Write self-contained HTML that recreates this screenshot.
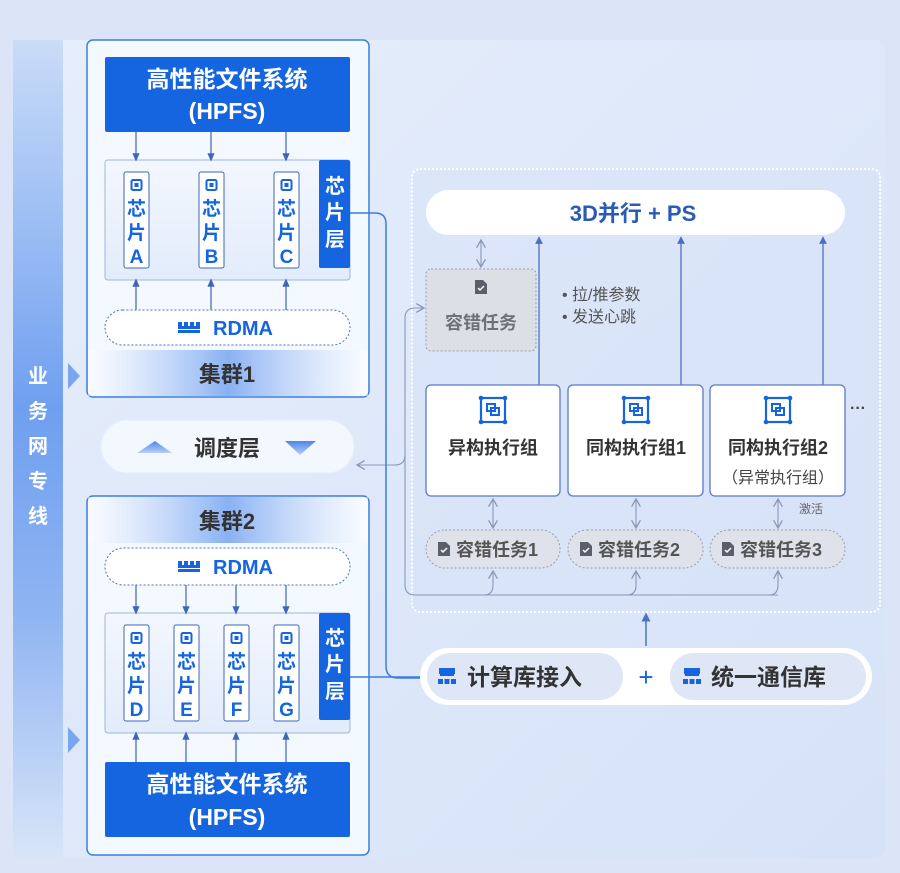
<!DOCTYPE html>
<html><head><meta charset="utf-8"><style>
html,body{margin:0;padding:0;background:#dbe5f7;}
svg{display:block;font-family:"Liberation Sans","Noto Sans CJK SC",sans-serif;}
</style></head><body>
<svg width="900" height="873" viewBox="0 0 900 873" xmlns="http://www.w3.org/2000/svg">
<defs>
<linearGradient id="bg" x1="0" y1="0" x2="1" y2="1"><stop offset="0" stop-color="#e6eefb"/><stop offset="1" stop-color="#d6e2f8"/></linearGradient>
<linearGradient id="strip" x1="0" y1="0" x2="0" y2="1"><stop offset="0" stop-color="#c9dcf8"/><stop offset="0.45" stop-color="#6f9ff0"/><stop offset="0.7" stop-color="#8fb4f2"/><stop offset="1" stop-color="#d8e5f8"/></linearGradient>
<linearGradient id="band" x1="0" y1="0" x2="1" y2="0"><stop offset="0" stop-color="#ffffff" stop-opacity="0.6"/><stop offset="0.5" stop-color="#6f9ff0"/><stop offset="1" stop-color="#ffffff" stop-opacity="0.6"/></linearGradient>
<linearGradient id="band2" x1="0" y1="0" x2="0" y2="1"><stop offset="0" stop-color="#ffffff" stop-opacity="0"/><stop offset="1" stop-color="#ffffff" stop-opacity="0.5"/></linearGradient>
<linearGradient id="chipbg" x1="0" y1="0" x2="0" y2="1"><stop offset="0" stop-color="#f3f7fe"/><stop offset="1" stop-color="#e2ecfb"/></linearGradient>
<linearGradient id="tri" x1="0" y1="0" x2="0" y2="1"><stop offset="0" stop-color="#4d86ee"/><stop offset="1" stop-color="#b7cff6"/></linearGradient>
<marker id="ab" markerWidth="8" markerHeight="8" refX="4" refY="4" orient="auto"><path d="M0,1 L7,4 L0,7 z" fill="#3f66b8"/></marker>
<marker id="ag" markerWidth="10" markerHeight="10" refX="8" refY="5" orient="auto"><path d="M1,1 L8,5 L1,9" fill="none" stroke="#8b98b8" stroke-width="1.2"/></marker>
<marker id="ag2" markerWidth="10" markerHeight="10" refX="2" refY="5" orient="auto"><path d="M9,1 L2,5 L9,9" fill="none" stroke="#8b98b8" stroke-width="1.2"/></marker>
<marker id="ad" markerWidth="6" markerHeight="6" refX="3" refY="3" orient="auto"><path d="M0,0 L6,3 L0,6 z" fill="#4a72c4"/></marker>
<g id="chipic"><rect x="-5" y="-5" width="10" height="10" rx="1.5" fill="none" stroke="#1565e0" stroke-width="2"/><rect x="-2" y="-2" width="4" height="4" fill="#1565e0"/></g>
<g id="execic"><rect x="-12" y="-12" width="24" height="24" fill="none" stroke="#1565e0" stroke-width="2.2"/><rect x="-6" y="-6" width="8" height="7" fill="none" stroke="#1565e0" stroke-width="2"/><rect x="-2" y="-2" width="8" height="7" fill="none" stroke="#1565e0" stroke-width="2"/><circle cx="-12" cy="-12" r="2.3" fill="#1565e0"/><circle cx="12" cy="-12" r="2.3" fill="#1565e0"/><circle cx="-12" cy="12" r="2.3" fill="#1565e0"/><circle cx="12" cy="12" r="2.3" fill="#1565e0"/></g>
<g id="docic"><path d="M-6,-7 h8 l4,4 v10 h-12 z" fill="#5a5f6b"/><path d="M-3,1 l2,2 l4,-4" fill="none" stroke="#fff" stroke-width="1.5"/></g>
<g id="netic"><rect x="-8" y="-8" width="16" height="6" fill="#1565e0"/><rect x="-9" y="3" width="5" height="5" fill="#1565e0"/><rect x="-2.5" y="3" width="5" height="5" fill="#1565e0"/><rect x="4" y="3" width="5" height="5" fill="#1565e0"/><rect x="-7" y="-2" width="14" height="2" fill="#1565e0"/></g>
<g id="ramic"><rect x="-11" y="-5" width="22" height="7" fill="#1565e0"/><rect x="-11" y="3" width="22" height="3" fill="#1565e0"/><rect x="-7" y="-5" width="2" height="4" fill="#fff"/><rect x="-1" y="-5" width="2" height="4" fill="#fff"/><rect x="5" y="-5" width="2" height="4" fill="#fff"/></g>
</defs>
<rect width="900" height="873" fill="#dbe5f7"/>
<rect x="13" y="40" width="872" height="818" rx="10" fill="url(#bg)"/>
<rect x="13" y="40" width="50" height="818" fill="url(#strip)"/>
<g fill="#fff" font-size="20" font-weight="bold" text-anchor="middle">
<text x="38" y="383">业</text><text x="38" y="418">务</text><text x="38" y="453">网</text><text x="38" y="488">专</text><text x="38" y="523">线</text></g>
<path d="M68,363 L80,376 L68,389 z" fill="#7aa6f0"/>
<path d="M68,727 L80,740 L68,753 z" fill="#7aa6f0"/>

<!-- cluster 1 -->
<rect x="87" y="40" width="282" height="357" rx="6" fill="#f4f8ff" stroke="#3a7ee0" stroke-width="1.5"/>
<rect x="105" y="57" width="245" height="75" rx="2" fill="#1565e0"/>
<text x="227" y="87" fill="#fff" font-size="23" font-weight="bold" text-anchor="middle">高性能文件系统</text>
<text x="227" y="119" fill="#fff" font-size="23" font-weight="bold" text-anchor="middle">(HPFS)</text>
<rect x="105" y="160" width="245" height="120" rx="3" fill="url(#chipbg)" stroke="#9db6e0"/>
<rect x="319" y="160" width="31" height="108" rx="2" fill="#1565e0"/>
<g fill="#fff" font-size="20" font-weight="bold" text-anchor="middle"><text x="335" y="193">芯</text><text x="335" y="219">片</text><text x="335" y="246">层</text></g>
<g stroke="#3f66b8" stroke-width="1.2">
<line x1="136" y1="132" x2="136" y2="158" marker-end="url(#ab)"/><line x1="211" y1="132" x2="211" y2="158" marker-end="url(#ab)"/><line x1="286" y1="132" x2="286" y2="158" marker-end="url(#ab)"/>
<line x1="136" y1="310" x2="136" y2="282" marker-end="url(#ab)"/><line x1="211" y1="310" x2="211" y2="282" marker-end="url(#ab)"/><line x1="286" y1="310" x2="286" y2="282" marker-end="url(#ab)"/></g>
<g font-size="19" font-weight="bold" fill="#1565e0" text-anchor="middle">
<rect x="124" y="172" width="25" height="96" rx="2" fill="#fff" stroke="#3f66b8"/><use href="#chipic" x="136.5" y="185"/><text x="136.5" y="215">芯</text><text x="136.5" y="239">片</text><text x="136.5" y="263">A</text>
<rect x="199" y="172" width="25" height="96" rx="2" fill="#fff" stroke="#3f66b8"/><use href="#chipic" x="211.5" y="185"/><text x="211.5" y="215">芯</text><text x="211.5" y="239">片</text><text x="211.5" y="263">B</text>
<rect x="274" y="172" width="25" height="96" rx="2" fill="#fff" stroke="#3f66b8"/><use href="#chipic" x="286.5" y="185"/><text x="286.5" y="215">芯</text><text x="286.5" y="239">片</text><text x="286.5" y="263">C</text>
</g>
<rect x="105" y="310" width="245" height="35" rx="17.5" fill="#fff" stroke="#4a72c4" stroke-dasharray="2,2"/>
<use href="#ramic" x="189" y="327"/>
<text x="243" y="335" fill="#1565e0" font-size="20" font-weight="bold" text-anchor="middle">RDMA</text>
<rect x="88" y="350" width="280" height="46" fill="url(#band)" opacity="0.8"/>
<text x="227" y="382" fill="#333" font-size="22" font-weight="bold" text-anchor="middle">集群1</text>

<!-- scheduler -->
<rect x="101" y="420" width="253" height="53" rx="26.5" fill="#f3f7fe" stroke="#e6eefb"/>
<path d="M137,453 L155,441 L172,453 z" fill="url(#tri)"/>
<path d="M285,441 L316,441 L300,455 z" fill="url(#tri)"/>
<text x="227" y="456" fill="#333" font-size="22" font-weight="bold" text-anchor="middle">调度层</text>

<!-- cluster 2 -->
<rect x="87" y="496" width="282" height="359" rx="6" fill="#f4f8ff" stroke="#3a7ee0" stroke-width="1.5"/>
<rect x="88" y="497" width="280" height="46" fill="url(#band)" opacity="0.8"/>
<text x="227" y="529" fill="#333" font-size="22" font-weight="bold" text-anchor="middle">集群2</text>
<rect x="105" y="548" width="245" height="37" rx="18.5" fill="#fff" stroke="#4a72c4" stroke-dasharray="2,2"/>
<use href="#ramic" x="189" y="566"/>
<text x="243" y="574" fill="#1565e0" font-size="20" font-weight="bold" text-anchor="middle">RDMA</text>
<rect x="105" y="613" width="245" height="120" rx="3" fill="url(#chipbg)" stroke="#9db6e0"/>
<rect x="319" y="613" width="31" height="107" rx="2" fill="#1565e0"/>
<g fill="#fff" font-size="20" font-weight="bold" text-anchor="middle"><text x="335" y="645">芯</text><text x="335" y="671">片</text><text x="335" y="698">层</text></g>
<g stroke="#3f66b8" stroke-width="1.2">
<line x1="136" y1="585" x2="136" y2="611" marker-end="url(#ab)"/><line x1="186" y1="585" x2="186" y2="611" marker-end="url(#ab)"/><line x1="236" y1="585" x2="236" y2="611" marker-end="url(#ab)"/><line x1="286" y1="585" x2="286" y2="611" marker-end="url(#ab)"/>
<line x1="136" y1="762" x2="136" y2="735" marker-end="url(#ab)"/><line x1="186" y1="762" x2="186" y2="735" marker-end="url(#ab)"/><line x1="236" y1="762" x2="236" y2="735" marker-end="url(#ab)"/><line x1="286" y1="762" x2="286" y2="735" marker-end="url(#ab)"/></g>
<g font-size="19" font-weight="bold" fill="#1565e0" text-anchor="middle">
<rect x="124" y="625" width="25" height="96" rx="2" fill="#fff" stroke="#3f66b8"/><use href="#chipic" x="136.5" y="638"/><text x="136.5" y="668">芯</text><text x="136.5" y="692">片</text><text x="136.5" y="716">D</text>
<rect x="174" y="625" width="25" height="96" rx="2" fill="#fff" stroke="#3f66b8"/><use href="#chipic" x="186.5" y="638"/><text x="186.5" y="668">芯</text><text x="186.5" y="692">片</text><text x="186.5" y="716">E</text>
<rect x="224" y="625" width="25" height="96" rx="2" fill="#fff" stroke="#3f66b8"/><use href="#chipic" x="236.5" y="638"/><text x="236.5" y="668">芯</text><text x="236.5" y="692">片</text><text x="236.5" y="716">F</text>
<rect x="274" y="625" width="25" height="96" rx="2" fill="#fff" stroke="#3f66b8"/><use href="#chipic" x="286.5" y="638"/><text x="286.5" y="668">芯</text><text x="286.5" y="692">片</text><text x="286.5" y="716">G</text>
</g>
<rect x="105" y="762" width="245" height="75" rx="2" fill="#1565e0"/>
<text x="227" y="792" fill="#fff" font-size="23" font-weight="bold" text-anchor="middle">高性能文件系统</text>
<text x="227" y="825" fill="#fff" font-size="23" font-weight="bold" text-anchor="middle">(HPFS)</text>

<!-- right container -->
<rect x="412" y="169" width="468" height="443" rx="8" fill="#d7e1f8" fill-opacity="0.5" stroke="#fff" stroke-width="2" stroke-dasharray="2,2"/>
<rect x="426" y="190" width="419" height="45" rx="22.5" fill="#fff"/>
<text x="633" y="221" fill="#2a5bb5" font-size="22" font-weight="bold" text-anchor="middle">3D并行 + PS</text>
<rect x="426" y="269" width="110" height="82" rx="5" fill="#dcdfe6" stroke="#9a9ea8" stroke-dasharray="2,2"/>
<use href="#docic" x="481" y="287"/>
<text x="481" y="329" fill="#6e717a" font-size="18" font-weight="bold" text-anchor="middle">容错任务</text>
<g fill="#555" font-size="16"><text x="562" y="300">•  拉/推参数</text><text x="562" y="322">•  发送心跳</text></g>
<g stroke="#8b98b8" stroke-width="1.1" fill="none"><line x1="481" y1="240" x2="481" y2="267" marker-end="url(#ag)" marker-start="url(#ag2)"/></g>
<g stroke="#4a72c4" stroke-width="1.3">
<line x1="539" y1="385" x2="539" y2="240" marker-end="url(#ad)"/>
<line x1="681" y1="385" x2="681" y2="240" marker-end="url(#ad)"/>
<line x1="823" y1="385" x2="823" y2="240" marker-end="url(#ad)"/></g>
<g font-size="18" fill="#333" font-weight="bold" text-anchor="middle">
<rect x="426" y="385" width="134" height="111" rx="5" fill="#fff" stroke="#5a7bc8" stroke-width="1.3"/><use href="#execic" x="493" y="410"/><text x="493" y="454">异构执行组</text>
<rect x="568" y="385" width="135" height="111" rx="5" fill="#fff" stroke="#5a7bc8" stroke-width="1.3"/><use href="#execic" x="636" y="410"/><text x="636" y="454">同构执行组1</text>
<rect x="710" y="385" width="135" height="111" rx="5" fill="#fff" stroke="#5a7bc8" stroke-width="1.3"/><use href="#execic" x="778" y="410"/><text x="778" y="454">同构执行组2</text>
<text x="778" y="483" font-size="16" font-weight="normal" fill="#444">（异常执行组）</text></g>
<text x="858" y="413" fill="#444" font-size="16" font-weight="bold" text-anchor="middle">···</text>
<text x="811" y="513" fill="#666" font-size="12" text-anchor="middle">激活</text>
<g font-size="18" fill="#555" font-weight="bold">
<rect x="426" y="530" width="134" height="38" rx="19" fill="#dfe2ea" stroke="#9a9ea8" stroke-dasharray="2,2"/><use href="#docic" x="444" y="549"/><text x="456" y="556">容错任务1</text>
<rect x="568" y="530" width="135" height="38" rx="19" fill="#dfe2ea" stroke="#9a9ea8" stroke-dasharray="2,2"/><use href="#docic" x="586" y="549"/><text x="598" y="556">容错任务2</text>
<rect x="710" y="530" width="135" height="38" rx="19" fill="#dfe2ea" stroke="#9a9ea8" stroke-dasharray="2,2"/><use href="#docic" x="728" y="549"/><text x="740" y="556">容错任务3</text></g>
<g stroke="#8b98b8" stroke-width="1.1" fill="none">
<line x1="493" y1="499" x2="493" y2="528" marker-end="url(#ag)" marker-start="url(#ag2)"/>
<line x1="636" y1="499" x2="636" y2="528" marker-end="url(#ag)" marker-start="url(#ag2)"/>
<line x1="778" y1="499" x2="778" y2="528" marker-end="url(#ag)" marker-start="url(#ag2)"/>
<path d="M778,595 H415 Q405,595 405,585 V318 Q405,308 415,308 H424" marker-end="url(#ag)"/>
<path d="M484,595 Q493,595 493,585 V571" marker-end="url(#ag)"/>
<path d="M627,595 Q636,595 636,585 V571" marker-end="url(#ag)"/>
<path d="M769,595 Q778,595 778,585 V571" marker-end="url(#ag)"/>
<path d="M405,455 Q405,465 395,465 H357" marker-end="url(#ag)"/>
</g>

<!-- blue connectors -->
<g stroke="#3a7ee0" stroke-width="1.5" fill="none">
<path d="M350,213 H375 Q386,213 386,224 V666 Q386,678 398,678 H422"/>
<line x1="350" y1="677" x2="422" y2="677"/></g>
<line x1="646" y1="646" x2="646" y2="617" stroke="#4a72c4" stroke-width="1.5" marker-end="url(#ad)"/>

<!-- bottom pill -->
<rect x="420" y="648" width="452" height="57" rx="28.5" fill="#fff"/>
<rect x="427" y="653" width="196" height="47" rx="23.5" fill="#dfe6f5"/>
<rect x="670" y="653" width="196" height="47" rx="23.5" fill="#dfe6f5"/>
<use href="#netic" x="447" y="676"/><use href="#netic" x="692" y="676"/>
<g font-size="23" font-weight="bold" fill="#333"><text x="467" y="685">计算库接入</text><text x="711" y="685">统一通信库</text></g>
<text x="646" y="686" fill="#1565e0" font-size="26" text-anchor="middle">+</text>
</svg>
</body></html>
